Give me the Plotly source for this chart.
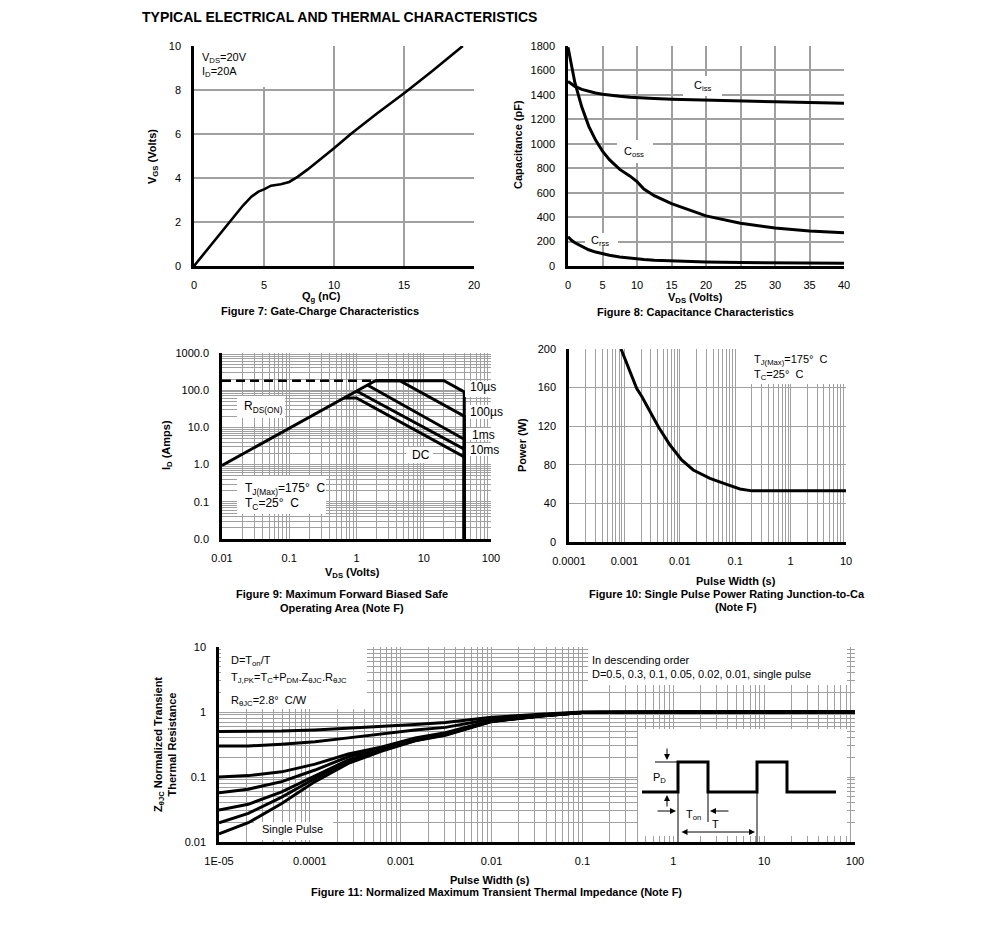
import plotly.graph_objects as go

W, H = 991, 933          # browser window
OFF = 8                  # default page body margin
FW, FH = W - 2 * OFF, H - 2 * OFF
FONT = "Liberation Sans, Arial, Helvetica, sans-serif"
GRID = "#a0a0a0"

# ---------------- data ----------------
# Figure 7: gate charge
qg_nc = [0, 1, 2, 2.6, 3.5, 4.1, 4.6, 5.0, 5.5, 6.2, 6.8, 7.4, 8.1, 10, 11.2, 13, 15.1, 17, 19.2]
vgs_v = [0, 0.78, 1.55, 2.0, 2.75, 3.15, 3.38, 3.48, 3.65, 3.72, 3.82, 4.05, 4.38, 5.35, 6.0, 6.9, 7.9, 8.85, 10.0]

# Figure 8: capacitance
vds_c = [0, 0.5, 1, 2, 3, 4, 5, 6, 7.5, 9, 10, 11, 12.5, 15, 20, 25, 30, 35, 40]
ciss = [1510, 1490, 1470, 1445, 1428, 1415, 1405, 1397, 1388, 1381, 1377, 1374, 1370, 1365, 1356, 1350, 1344, 1338, 1332]
coss = [1790, 1640, 1500, 1300, 1145, 1030, 940, 870, 790, 735, 690, 630, 575, 510, 410, 350, 310, 287, 272]
crss = [240, 210, 190, 158, 133, 114, 99, 88, 74, 63, 57, 53, 48, 42, 33, 28, 25, 23, 22]

# Figure 9: safe operating area
rds_v = [0.01, 1.9]
rds_i = [0.95, 180]
lim_v = [0.01, 1.9]
lim_i = [180, 180]
soa_10us_v = [1.9, 20, 40, 40]
soa_10us_i = [180, 180, 90, 0.01]
soa_100us_v = [1.9, 4.4, 40, 40]
soa_100us_i = [180, 180, 20, 0.01]
soa_1ms_v = [1.45, 40, 40]
soa_1ms_i = [138, 4.8, 0.01]
soa_10ms_v = [1.0, 40, 40]
soa_10ms_i = [95, 2.6, 0.01]
soa_dc_v = [0.65, 1.0, 40, 40]
soa_dc_i = [62, 62, 1.6, 0.01]

# Figure 10: single pulse power
pw_t = [0.00087, 0.00118, 0.00167, 0.00205, 0.0029, 0.0041, 0.00665, 0.0108, 0.0175, 0.035, 0.07, 0.122, 0.2, 0.5, 1, 10]
pw_p = [200, 180, 159, 151, 135, 119.5, 100.5, 85, 74.6, 66, 59.8, 54.9, 53, 53, 53, 53]

# Figure 11: transient thermal impedance
zt_t = [1e-5, 2.1e-5, 4.9e-5, 1.14e-4, 2.65e-4, 6.2e-4, 1.44e-3, 3.1e-3, 1e-2, 3.4e-2, 0.1, 1, 10, 100]
z_d05 = [0.50, 0.50, 0.51, 0.53, 0.56, 0.59, 0.64, 0.69, 0.83, 0.92, 1.0, 1.0, 1.0, 1.0]
z_d03 = [0.30, 0.30, 0.32, 0.35, 0.40, 0.46, 0.53, 0.58, 0.78, 0.90, 0.99, 1.0, 1.0, 1.0]
z_d01 = [0.10, 0.105, 0.12, 0.158, 0.226, 0.29, 0.40, 0.48, 0.74, 0.88, 0.98, 1.0, 1.0, 1.0]
z_d005 = [0.057, 0.065, 0.085, 0.128, 0.205, 0.28, 0.38, 0.46, 0.73, 0.87, 0.98, 1.0, 1.0, 1.0]
z_d002 = [0.031, 0.038, 0.059, 0.104, 0.183, 0.265, 0.37, 0.45, 0.72, 0.87, 0.98, 1.0, 1.0, 1.0]
z_d001 = [0.0198, 0.0276, 0.049, 0.095, 0.176, 0.26, 0.365, 0.45, 0.72, 0.87, 0.98, 1.0, 1.0, 1.0]
z_single = [0.0133, 0.0198, 0.039, 0.085, 0.162, 0.25, 0.36, 0.44, 0.71, 0.86, 0.98, 1.0, 1.0, 1.0]

# tick labels
soa_x_ticks = [0.01, 0.1, 1, 10, 100]
soa_x_text = ["0.01", "0.1", "1", "10", "100"]
soa_y_ticks = [0.01, 0.1, 1, 10, 100, 1000]
soa_y_text = ["0.0", "0.1", "1.0", "10.0", "100.0", "1000.0"]
pw_x_ticks = [0.0001, 0.001, 0.01, 0.1, 1, 10]
pw_x_text = ["0.0001", "0.001", "0.01", "0.1", "1", "10"]
zt_x_ticks = [1e-5, 1e-4, 1e-3, 1e-2, 0.1, 1, 10, 100]
zt_x_text = ["1E-05", "0.0001", "0.001", "0.01", "0.1", "1", "10", "100"]
zt_y_ticks = [0.01, 0.1, 1, 10]
zt_y_text = ["0.01", "0.1", "1", "10"]


def px(x):
    return (x - OFF) / FW


def py(y):
    return 1 - (y - OFF) / FH


def minor_log(lo, hi):
    return [k * 10.0 ** e for e in range(lo, hi) for k in range(2, 10)]


def base_axis(**kw):
    d = dict(showline=True, linecolor="black", linewidth=2.5, mirror=False,
             showgrid=True, gridcolor=GRID, gridwidth=1.4, zeroline=False,
             ticks="", tickfont=dict(family=FONT, size=11, color="black"),
             fixedrange=True, automargin=False)
    d.update(kw)
    return d


def log_axis(lo, hi, tv, tt, **kw):
    return base_axis(type="log", range=[lo, hi], tickmode="array", tickvals=tv, ticktext=tt,
                     minor=dict(tickmode="array", tickvals=minor_log(lo, hi), showgrid=True,
                                gridcolor=GRID, gridwidth=1.4, ticks=""), **kw)


fig = go.Figure()
blk = dict(color="black", width=2.6)
blk3 = dict(color="black", width=3)

fig.add_trace(go.Scatter(x=qg_nc, y=vgs_v, mode="lines", line=blk, xaxis="x", yaxis="y"))

for c in (ciss, coss, crss):
    fig.add_trace(go.Scatter(x=vds_c, y=c, mode="lines", line=dict(color="black", width=3), xaxis="x2", yaxis="y2"))

fig.add_trace(go.Scatter(x=lim_v, y=lim_i, mode="lines", line=dict(color="black", width=2.5, dash="9px,5px"),
                         xaxis="x3", yaxis="y3"))
fig.add_trace(go.Scatter(x=rds_v, y=rds_i, mode="lines", line=blk3, xaxis="x3", yaxis="y3"))
for vv, ii in ((soa_10us_v, soa_10us_i), (soa_100us_v, soa_100us_i), (soa_1ms_v, soa_1ms_i),
               (soa_10ms_v, soa_10ms_i), (soa_dc_v, soa_dc_i)):
    fig.add_trace(go.Scatter(x=vv, y=ii, mode="lines", line=blk3, xaxis="x3", yaxis="y3"))

fig.add_trace(go.Scatter(x=pw_t, y=pw_p, mode="lines", line=blk3, xaxis="x4", yaxis="y4"))

for z in (z_d05, z_d03, z_d01, z_d005, z_d002, z_d001, z_single):
    fig.add_trace(go.Scatter(x=zt_t, y=z, mode="lines", line=blk3, xaxis="x5", yaxis="y5"))

xs = dict(ticklabelstandoff=7)
ys = dict(ticklabelstandoff=8)

fig.update_layout(
    width=FW, height=FH, margin=dict(l=0, r=0, t=0, b=0, pad=0, autoexpand=False),
    paper_bgcolor="white", plot_bgcolor="white", showlegend=False,
    font=dict(family=FONT, size=11, color="black"),
    xaxis=base_axis(domain=[px(194), px(474)], anchor="y", range=[0, 20], dtick=5, tick0=0, gridwidth=2, **xs),
    yaxis=base_axis(domain=[py(266), py(46)], anchor="x", range=[0, 10], dtick=2, tick0=0, gridwidth=2, **ys),
    xaxis2=base_axis(domain=[px(568), px(844)], anchor="y2", range=[0, 40], dtick=5, tick0=0, gridwidth=2, **xs),
    yaxis2=base_axis(domain=[py(266), py(46)], anchor="x2", range=[0, 1800], dtick=200, tick0=0, gridwidth=2, **ys),
    xaxis3=log_axis(-2, 2, soa_x_ticks, soa_x_text, domain=[px(222), px(491)], anchor="y3", **xs),
    yaxis3=log_axis(-2, 3, soa_y_ticks, soa_y_text, domain=[py(539), py(353)], anchor="x3", **ys),
    xaxis4=log_axis(-4, 1, pw_x_ticks, pw_x_text, domain=[px(569), px(846)], anchor="y4", **xs),
    yaxis4=base_axis(domain=[py(542), py(349)], anchor="x4", range=[0, 200], dtick=40, tick0=0, **ys),
    xaxis5=log_axis(-5, 2, zt_x_ticks, zt_x_text, domain=[px(219), px(855)], anchor="y5", **xs),
    yaxis5=log_axis(-2, 1, zt_y_ticks, zt_y_text, domain=[py(842), py(647)], anchor="x5", **ys),
)

# white label boxes (pixel rectangles)
boxes = [
    (196, 46, 266, 87),            # fig7 conditions
    (683, 76, 722, 96),            # Ciss
    (617, 140, 653, 163),          # Coss
    (585, 233, 618, 246),          # Crss
    (237, 396, 285, 418),          # RDS(ON)
    (465, 381, 498, 397),          # 10us
    (466, 405, 500, 419),          # 100us
    (466, 428, 494, 440),          # 1ms
    (466, 443, 498, 456),          # 10ms
    (406, 447, 433, 463),          # DC
    (237, 476, 326, 514),          # TJ box fig9
    (738, 349, 846, 384),          # TJ box fig10
    (221, 647, 367, 709),          # fig11 formulas
    (588, 647, 847, 685),          # fig11 legend text
    (254, 822, 333, 840),          # single pulse
    (638, 729, 847, 836),          # inset
]
shapes = []
for x0, y0, x1, y1 in boxes:
    shapes.append(dict(type="rect", xref="paper", yref="paper", x0=px(x0), x1=px(x1), y0=py(y1), y1=py(y0),
                       fillcolor="white", line=dict(width=0), layer="above"))

# inset pulse diagram
pulse = [(642, 792), (678, 792), (678, 762), (708, 762), (708, 792), (757, 792), (757, 762),
         (787, 762), (787, 792), (836, 792)]
path = "M " + " L ".join(f"{px(a):.5f},{py(b):.5f}" for a, b in pulse)
shapes.append(dict(type="path", xref="paper", yref="paper", path=path, line=dict(color="black", width=3), layer="above"))
for x0, y0, x1, y1 in [(655, 762, 678, 762), (678, 792, 678, 842), (708, 792, 708, 822), (757, 792, 757, 842)]:
    shapes.append(dict(type="line", xref="paper", yref="paper", x0=px(x0), y0=py(y0), x1=px(x1), y1=py(y1),
                       line=dict(color="black", width=1), layer="above"))
fig.update_layout(shapes=shapes)

ann = []


def txt(x, y, s, size=11, bold=False, xanchor="left", angle=0, align="left"):
    if bold:
        s = "<b>" + s + "</b>"
    ann.append(dict(xref="paper", yref="paper", x=px(x), y=py(y), text=s, showarrow=False,
                    xanchor=xanchor, yanchor="middle", textangle=angle, align=align,
                    font=dict(family=FONT, size=size, color="black")))


def arrow(xt, yt, ax, ay, both=False):
    d = dict(xref="paper", yref="paper", x=px(xt), y=py(yt), ax=ax, ay=ay, axref="pixel", ayref="pixel",
             text="", showarrow=True, arrowhead=2, arrowsize=1.2, arrowwidth=1, arrowcolor="black")
    if both:
        d.update(arrowside="end+start", startarrowhead=2, startarrowsize=1.2)
    ann.append(d)


ann.append(dict(xref="paper", yref="paper", x=px(141), y=py(8), text="<b>TYPICAL ELECTRICAL AND THERMAL CHARACTERISTICS</b>",
                showarrow=False, xanchor="left", yanchor="top", borderpad=0,
                font=dict(family=FONT, size=14, color="black")))

# fig 7
txt(200, 58, "V<sub>DS</sub>=20V")
txt(200, 72, "I<sub>D</sub>=20A")
txt(153, 157, "V<sub>GS</sub> (Volts)", bold=True, xanchor="center", angle=-90)
txt(321, 297, "Q<sub>g</sub> (nC)", bold=True, xanchor="center")
txt(320, 311, "Figure 7: Gate-Charge Characteristics", bold=True, xanchor="center")

# fig 8
txt(703, 86, "C<sub>iss</sub>", xanchor="center")
txt(634, 152, "C<sub>oss</sub>", xanchor="center")
txt(600, 241, "C<sub>rss</sub>", xanchor="center")
txt(518, 145, "Capacitance (pF)", bold=True, xanchor="center", angle=-90)
txt(695, 298, "V<sub>DS</sub> (Volts)", bold=True, xanchor="center")
txt(695, 312, "Figure 8: Capacitance Characteristics", bold=True, xanchor="center")

# fig 9
txt(242, 407, "R<sub>DS(ON)</sub>", size=12)
txt(468, 387, "10µs", size=12)
txt(468, 412, "100µs", size=12)
txt(470, 435, "1ms", size=12)
txt(468, 450, "10ms", size=12)
txt(410, 455, "DC", size=12)
txt(243, 489, "T<sub>J(Max)</sub>=175°  C", size=12)
txt(243, 504, "T<sub>C</sub>=25°  C", size=12)
txt(167, 445, "I<sub>D</sub> (Amps)", bold=True, xanchor="center", angle=-90)
txt(352, 573, "V<sub>DS</sub> (Volts)", bold=True, xanchor="center")
txt(342, 594, "Figure 9: Maximum Forward Biased Safe", bold=True, xanchor="center")
txt(342, 608, "Operating Area (Note F)", bold=True, xanchor="center")

# fig 10
txt(752, 360, "T<sub>J(Max)</sub>=175°  C")
txt(752, 375, "T<sub>C</sub>=25°  C")
txt(522, 445, "Power (W)", bold=True, xanchor="center", angle=-90)
txt(736, 581, "Pulse Width (s)", bold=True, xanchor="center")
txt(587, 594, "Figure 10: Single Pulse Power Rating Junction-to-Ca", bold=True)
txt(736, 607, "(Note F)", bold=True, xanchor="center")

# fig 11
txt(229, 661, "D=T<sub>on</sub>/T")
txt(229, 678, "T<sub>J,PK</sub>=T<sub>C</sub>+P<sub>DM</sub>.Z<sub>θJC</sub>.R<sub>θJC</sub>")
txt(229, 701, "R<sub>θJC</sub>=2.8°  C/W")
txt(590, 660, "In descending order")
txt(590, 674, "D=0.5, 0.3, 0.1, 0.05, 0.02, 0.01, single pulse")
txt(260, 829, "Single Pulse")
txt(165, 745, "Z<sub>θJC</sub> Normalized Transient<br>Thermal Resistance", bold=True, xanchor="center",
    angle=-90, align="center")
txt(490, 880, "Pulse Width (s)", bold=True, xanchor="center")
txt(497, 892, "Figure 11: Normalized Maximum Transient Thermal Impedance (Note F)", bold=True, xanchor="center")

# inset labels / arrows
txt(659, 778, "P<sub>D</sub>", xanchor="center")
txt(693, 815, "T<sub>on</sub>", xanchor="center")
txt(715, 824, "T", xanchor="center")
arrow(667, 760, 0, -13)
arrow(667, 795, 0, 13)
arrow(676, 811, -20, 0)
arrow(710, 811, 20, 0)
arrow(755, 832, -75, 0, both=True)

fig.update_layout(annotations=ann)
fig.write_html("out.html")
